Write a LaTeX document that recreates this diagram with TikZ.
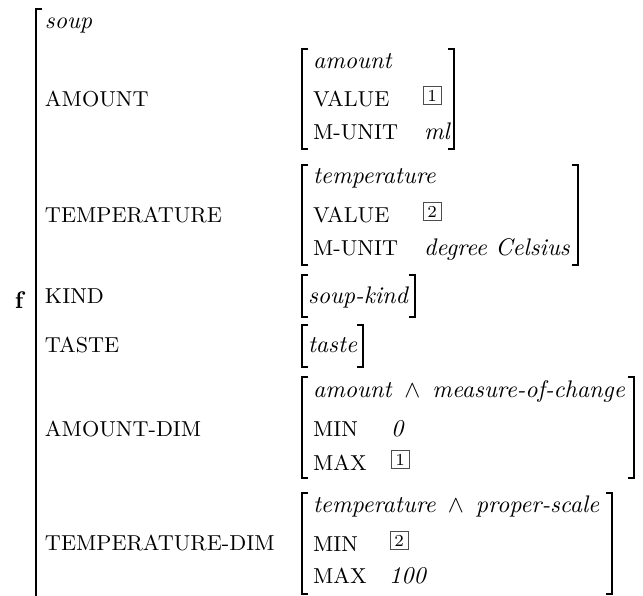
\documentclass[tikz,border=0pt]{standalone}
\begin{document}
\begin{tikzpicture}[x=1pt,y=-1pt,
  txt/.style={anchor=base west, inner sep=0pt, outer sep=0pt, scale=2.4},
  attr/.style={txt, font=\fontsize{9}{11}\selectfont},
  tag/.style={draw=black!70, line width=1pt, anchor=south west, inner sep=0pt,
              minimum width=7.5pt, minimum height=7.5pt, scale=2.4,
              font=\fontsize{7}{8}\selectfont},
  brk/.style={line width=1.5pt, line join=miter}]
\useasboundingbox (0,0) rectangle (643,595);

% feature structure label and outer bracket (open below)
\node[txt] (f) at (15,308) {\textbf{f}};
\draw[brk] (42,9) -- (36,9) -- (36,604);

% attribute names
\node[txt]  (soup)  at (45,28)  {\textit{soup}};
\node[attr] (aAmt)  at (45,106) {AMOUNT};
\node[attr] (aTmp)  at (45,222) {TEMPERATURE};
\node[attr] (aKind) at (45,303) {KIND};
\node[attr] (aTst)  at (45,352) {TASTE};
\node[attr] (aAD)   at (45,436) {AMOUNT-DIM};
\node[attr] (aTD)   at (45,550) {TEMPERATURE-DIM};

% AMOUNT value
\draw[brk] (308,49) -- (302,49) -- (302,149) -- (308,149);
\draw[brk] (448,49) -- (454,49) -- (454,149) -- (448,149);
\node[txt]  (m1t) at (313,68)  {\textit{amount}};
\node[attr] (m1a) at (313,106) {VALUE};
\node[tag]  (m1v) at (422,106) {1};
\node[attr] (m1b) at (313,139) {M-UNIT};
\node[txt]  (m1u) at (424,139) {\textit{ml}};

% TEMPERATURE value
\draw[brk] (308,165) -- (302,165) -- (302,265) -- (308,265);
\draw[brk] (572,165) -- (578,165) -- (578,265) -- (572,265);
\node[txt]  (m2t) at (313,183) {\textit{temperature}};
\node[attr] (m2a) at (313,222) {VALUE};
\node[tag]  (m2v) at (422,222) {2};
\node[attr] (m2b) at (313,255) {M-UNIT};
\node[txt]  (m2u) at (424,255) {\textit{degree Celsius}};

% KIND value
\draw[brk] (308,275) -- (302,275) -- (302,317) -- (308,317);
\draw[brk] (409,275) -- (415,275) -- (415,317) -- (409,317);
\node[txt] (m3t) at (308,303) {\textit{soup-kind}};

% TASTE value
\draw[brk] (308,325) -- (302,325) -- (302,367) -- (308,367);
\draw[brk] (357,325) -- (363,325) -- (363,367) -- (357,367);
\node[txt] (m4t) at (308,352) {\textit{taste}};

% AMOUNT-DIM value
\draw[brk] (308,377) -- (302,377) -- (302,478) -- (308,478);
\draw[brk] (628,377) -- (634,377) -- (634,478) -- (628,478);
\node[txt]  (m5t) at (313,397) {\textit{amount}\hspace{5pt}$\wedge$\hspace{5pt}\textit{measure-of-change}};
\node[attr] (m5a) at (313,436) {MIN};
\node[txt]  (m5v) at (391,436) {\textit{0}};
\node[attr] (m5b) at (313,470) {MAX};
\node[tag]  (m5w) at (390,470) {1};

% TEMPERATURE-DIM value
\draw[brk] (308,493) -- (302,493) -- (302,594) -- (308,594);
\draw[brk] (606,493) -- (612,493) -- (612,594) -- (606,594);
\node[txt]  (m6t) at (313,512) {\textit{temperature}\hspace{5pt}$\wedge$\hspace{5pt}\textit{proper-scale}};
\node[attr] (m6a) at (313,551) {MIN};
\node[tag]  (m6v) at (389,551) {2};
\node[attr] (m6b) at (313,583) {MAX};
\node[txt]  (m6w) at (389,583) {\textit{100}};
\end{tikzpicture}
\end{document}
